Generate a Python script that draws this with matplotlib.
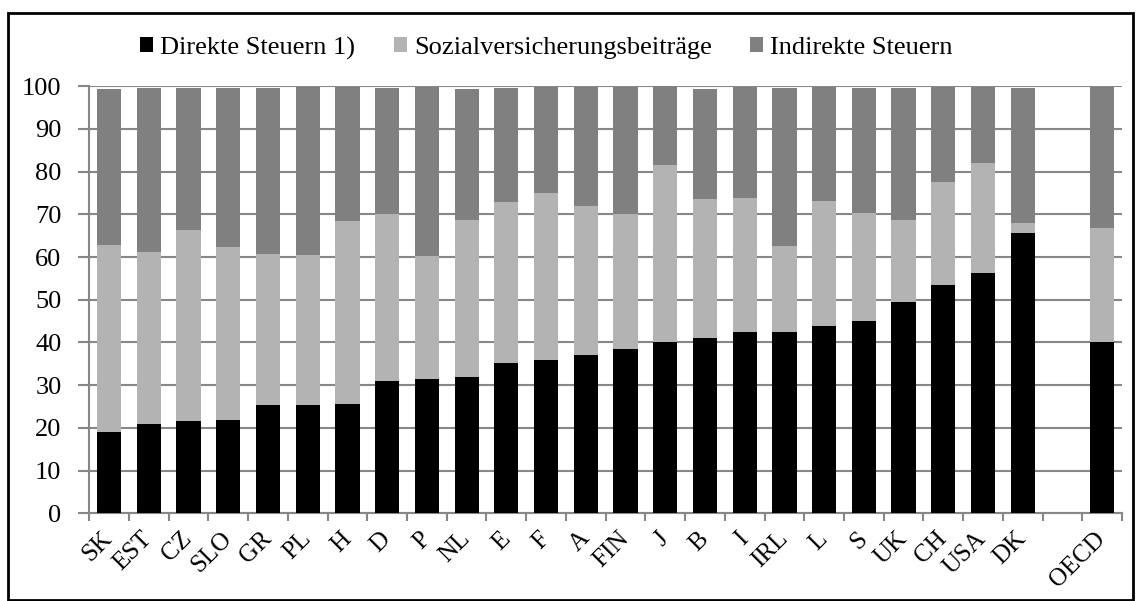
import numpy as np
import matplotlib.pyplot as plt
from matplotlib.patches import Rectangle

plt.rcParams['font.family'] = 'Liberation Serif'

countries = ['SK', 'EST', 'CZ', 'SLO', 'GR', 'PL', 'H', 'D', 'P', 'NL', 'E', 'F',
             'A', 'FIN', 'J', 'B', 'I', 'IRL', 'L', 'S', 'UK', 'CH', 'USA', 'DK',
             '', 'OECD']

direkte = [19.1, 20.8, 21.6, 21.9, 25.3, 25.3, 25.6, 31.0, 31.5, 32.0, 35.3, 36.0,
           37.1, 38.5, 40.2, 41.1, 42.5, 42.5, 43.8, 45.1, 49.6, 53.5, 56.3, 65.7,
           np.nan, 40.2]
# Oberkante Sozialversicherung (kumuliert)
sozial_top = [62.9, 61.2, 66.3, 62.4, 60.7, 60.5, 68.5, 70.1, 60.3, 68.6, 73.0, 75.0,
              72.0, 70.1, 81.5, 73.6, 73.8, 62.7, 73.1, 70.3, 68.7, 77.6, 82.1, 67.9,
              np.nan, 66.7]
# Gesamt (kumuliert)
gesamt = [99.4, 99.7, 99.7, 99.7, 99.7, 99.9, 99.9, 99.7, 99.8, 99.4, 99.7, 99.9,
          99.9, 99.9, 100.0, 99.4, 99.9, 99.7, 99.9, 99.7, 99.6, 99.9, 99.9, 99.7,
          np.nan, 99.9]

direkte = np.array(direkte)
sozial = np.array(sozial_top) - direkte
indirekte = np.array(gesamt) - np.array(sozial_top)

fig = plt.figure(figsize=(11.41, 6.01), dpi=100)
ax = fig.add_axes([89.3 / 1141, 1 - 513.3 / 601, (1122 - 89.3) / 1141, (513.3 - 86.3) / 601])

x = np.arange(len(countries))
w = 0.61
ax.bar(x, direkte, w, color='#000000', label='Direkte Steuern 1)', zorder=3)
ax.bar(x, sozial, w, bottom=direkte, color='#b3b3b3',
       label='Sozialversicherungsbeiträge', zorder=3)
ax.bar(x, indirekte, w, bottom=np.array(sozial_top), color='#808080',
       label='Indirekte Steuern', zorder=3)

ax.set_xlim(-0.5, len(countries) - 0.5)
ax.set_ylim(0, 100)
ax.set_yticks(np.arange(0, 101, 10))
ax.yaxis.grid(True, color='#878787', linewidth=1.5, zorder=0)
ax.tick_params(axis='y', length=8, width=1.5, color='#878787', labelsize=19, pad=12)

ax.set_xticks(np.arange(-0.5, len(countries), 1.0))
ax.set_xticklabels([])
ax.tick_params(axis='x', which='major', length=6, width=1.5, color='#878787')
ax.set_xticks(x, minor=True)
ax.set_xticklabels(countries, minor=True, rotation=45, ha='right', va='center',
                   rotation_mode='anchor', fontsize=18)
ax.tick_params(axis='x', which='minor', length=0, pad=16)

for s in ['top', 'right']:
    ax.spines[s].set_visible(False)
for s in ['left', 'bottom']:
    ax.spines[s].set_color('#878787')
    ax.spines[s].set_linewidth(1.5)

fig.legend(loc='center', bbox_to_anchor=(0.479, 1 - 48 / 601), ncol=3, frameon=False,
           fontsize=19, handlelength=0.5, handleheight=0.5, handletextpad=0.27,
           columnspacing=1.45)

fig.patches.append(Rectangle((8 / 1141, 1 / 601), 1125 / 1141, 587 / 601,
                             transform=fig.transFigure, fill=False,
                             edgecolor='black', linewidth=2))

fig.savefig('out.png', dpi=100)
